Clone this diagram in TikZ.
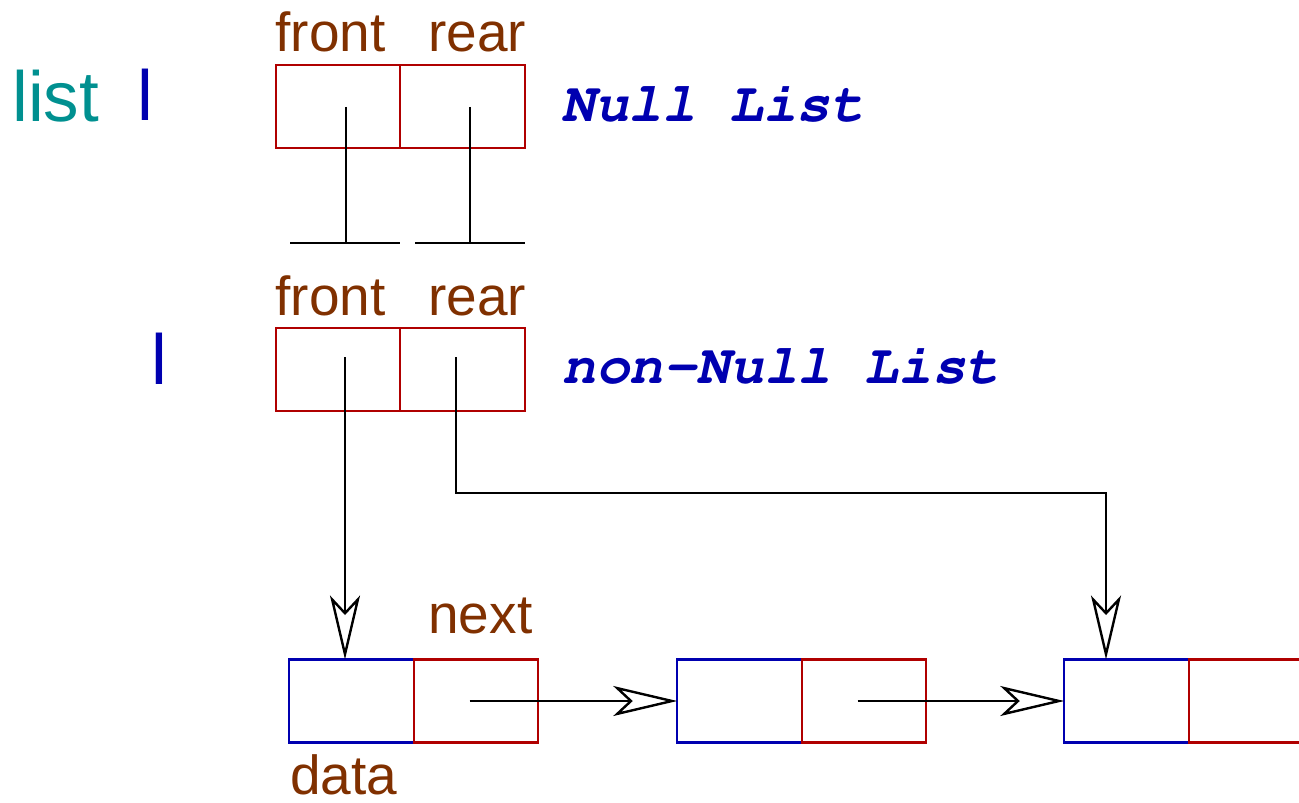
\documentclass[tikz,border=0pt]{standalone}
\usepackage{fontspec}
\setmainfont{Liberation Sans}
\usetikzlibrary{positioning,arrows.meta}
\newcommand\codefont{\fontencoding{T1}\fontfamily{pcr}\fontseries{b}\fontshape{sl}\selectfont}
\definecolor{cell red}{HTML}{B00000}
\definecolor{cell blue}{HTML}{0000B0}
\definecolor{field label}{HTML}{803000}
\definecolor{var teal}{HTML}{009090}
\tikzset{cell/.style={draw, line width=1.2pt, minimum width=62.25pt, minimum height=41.5pt,
        inner sep=0pt, outer sep=0pt},
    redcell/.style={cell, draw=cell red},
    bluecell/.style={cell, draw=cell blue},
    field/.style={anchor=base west, inner sep=0pt, text=field label,
        font=\fontsize{27.5}{33}\selectfont},
    caption/.style={anchor=base west, inner sep=0pt, text=cell blue,
        font=\fontsize{28}{33}\codefont},
    bigtext/.style={anchor=base west, inner sep=0pt,
        font=\fontsize{35.5}{42}\selectfont},
    link/.style={line width=1.2pt},
    ptr/.style={link, -{Stealth[open, length=32pt, width=15pt, inset=8pt]}}}

\begin{document}
\begin{tikzpicture}[x=0.5pt, y=-0.5pt]
    \useasboundingbox (0,0) rectangle (1299,802);
    \clip (0,0) rectangle (1299,802);
    % empty list
    \node[bigtext, text=var teal] (listname) at (12,122) {list};
    \node[bigtext, text=cell blue] (cursor1) at (137,121) {l};
    \node[redcell] (front1) at (338,106.5) {};
    \node[redcell, right=0pt of front1] (rear1) {};
    \node[field] (frontlabel1) at (275,52) {front};
    \node[field] (rearlabel1) at (428,52) {rear};
    \node[caption] (nulltext) at (561,122) {Null List};
    \coordinate (fptr1) at (346,107);
    \coordinate (rptr1) at (470,107);
    \coordinate (fground) at (346,243);
    \coordinate (rground) at (470,243);
    \draw[link] (fptr1) -- (fground);
    \draw[link] (rptr1) -- (rground);
    \draw[link] ([xshift=-28pt]fground) -- ([xshift=27pt]fground);
    \draw[link] ([xshift=-27.5pt]rground) -- ([xshift=27.5pt]rground);
    % list with nodes
    \node[bigtext, text=cell blue] (cursor2) at (151,384) {l};
    \node[redcell] (front2) at (338,369.5) {};
    \node[redcell, right=0pt of front2] (rear2) {};
    \node[field] (frontlabel2) at (275,315) {front};
    \node[field] (rearlabel2) at (428,315) {rear};
    \node[caption] (nonnulltext) at (562,383) {non-Null List};
    \coordinate (fptr2) at (345,357);
    \coordinate (rptr2) at (456,357);
    \coordinate (turn) at (1106,493);
    % the chain
    \foreach \i/\x in {1/351.5, 2/739.5, 3/1126.5} {
        \node[bluecell] (data\i) at (\x,701) {};
        \node[redcell, right=0pt of data\i] (next\i) {};
        \coordinate (nptr\i) at ([xshift=-3.25pt]next\i.center);
    }
    \node[field] (nextlabel) at (428,633) {next};
    \node[field] (datalabel) at (290,794) {data};
    \draw[ptr] (fptr2) -- (fptr2 |- data1.north);
    \draw[ptr] (rptr2) |- (turn) -- (turn |- data3.north);
    \foreach \i/\j in {1/2, 2/3}
        \draw[ptr] (nptr\i) -- (data\j.west);
\end{tikzpicture}
\end{document}
